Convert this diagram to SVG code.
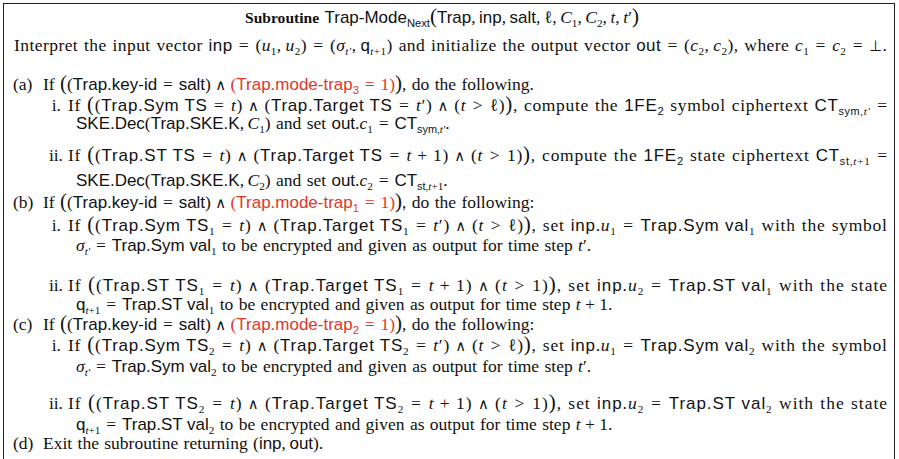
<svg xmlns="http://www.w3.org/2000/svg" width="899" height="459" viewBox="0 0 899 459">
<style>
text{font-family:"Liberation Serif","DejaVu Serif",serif;font-size:17.5px;fill:#111;word-spacing:1px}
.s{font-family:"Liberation Sans","DejaVu Sans",sans-serif;font-size:0.97em;word-spacing:0}
.i{font-style:italic}
.b{font-weight:bold;font-size:0.89em}
.sub{font-size:0.64em;baseline-shift:-4px}
.bg{font-size:1.2em}
.w{font-family:"DejaVu Sans",sans-serif;font-size:0.85em}
.red{fill:#e3352b}
.lb{text-anchor:end}
</style>
<rect x="3.5" y="3.5" width="891" height="480" fill="#fff" stroke="#222" stroke-width="1"/>
<g id="title">
<text x="442" y="23" text-anchor="middle"><tspan class="b">Subroutine</tspan> <tspan class="s">Trap-Mode</tspan><tspan class="s sub">Next</tspan><tspan class="bg">(</tspan><tspan class="s">Trap</tspan>,&#8201;<tspan class="s">inp</tspan>,&#8201;<tspan class="s">salt</tspan>,&#8201;ℓ,&#8201;<tspan class="i">C</tspan><tspan class="sub">1</tspan>,&#8201;<tspan class="i">C</tspan><tspan class="sub">2</tspan>,&#8201;<tspan class="i">t</tspan>,&#8201;<tspan class="i">t</tspan>′<tspan class="bg">)</tspan></text>
<text x="14" y="51" textLength="873" lengthAdjust="spacing">Interpret the input vector <tspan class="s">inp</tspan>&#8196;=&#8196;(<tspan class="i">u</tspan><tspan class="sub">1</tspan>,&#8201;<tspan class="i">u</tspan><tspan class="sub">2</tspan>)&#8196;=&#8196;(<tspan class="i">σ</tspan><tspan class="i sub">t′</tspan>,&#8201;<tspan class="s">q</tspan><tspan class="sub"><tspan class="i">t</tspan>+1</tspan>) and initialize the output vector <tspan class="s">out</tspan>&#8196;=&#8196;(<tspan class="i">c</tspan><tspan class="sub">2</tspan>,&#8201;<tspan class="i">c</tspan><tspan class="sub">2</tspan>), where <tspan class="i">c</tspan><tspan class="sub">1</tspan>&#8196;=&#8196;<tspan class="i">c</tspan><tspan class="sub">2</tspan>&#8196;=&#8196;<tspan class="w">⊥</tspan>.</text>
</g>
<g id="step-a">
<text x="13" y="90">(a)</text>
<text x="43" y="90">If <tspan class="bg">(</tspan>(<tspan class="s">Trap.key-id</tspan>&#8196;=&#8196;<tspan class="s">salt</tspan>)&#8197;<tspan class="w">∧</tspan>&#8197;<tspan class="red">(<tspan class="s">Trap.mode-trap</tspan><tspan class="s sub">3</tspan>&#8196;=&#8196;1)</tspan><tspan class="bg">)</tspan>, do the following.</text>
<text class="lb" x="61" y="111">i.</text>
<text x="68" y="111" textLength="819" lengthAdjust="spacing">If <tspan class="bg">(</tspan>(<tspan class="s">Trap.Sym TS</tspan>&#8196;=&#8196;<tspan class="i">t</tspan>)&#8197;<tspan class="w">∧</tspan>&#8197;(<tspan class="s">Trap.Target TS</tspan>&#8196;=&#8196;<tspan class="i">t</tspan>′)&#8197;<tspan class="w">∧</tspan>&#8197;(<tspan class="i">t</tspan>&#8196;&gt;&#8196;ℓ)<tspan class="bg">)</tspan>, compute the <tspan class="s">1FE</tspan><tspan class="s sub">2</tspan> symbol ciphertext <tspan class="s">CT</tspan><tspan class="sub"><tspan class="s">sym</tspan>,<tspan class="i">t′</tspan></tspan>&#8196;=</text>
<text x="76" y="129"><tspan class="s">SKE.Dec</tspan>(<tspan class="s">Trap.SKE.K</tspan>,&#8201;<tspan class="i">C</tspan><tspan class="sub">1</tspan>) and set <tspan class="s">out</tspan>.<tspan class="i">c</tspan><tspan class="sub">1</tspan>&#8196;=&#8196;<tspan class="s">CT</tspan><tspan class="sub"><tspan class="s">sym</tspan>,<tspan class="i">t′</tspan></tspan>.</text>
<text class="lb" x="63" y="161">ii.</text>
<text x="68" y="161" textLength="819" lengthAdjust="spacing">If <tspan class="bg">(</tspan>(<tspan class="s">Trap.ST TS</tspan>&#8196;=&#8196;<tspan class="i">t</tspan>)&#8197;<tspan class="w">∧</tspan>&#8197;(<tspan class="s">Trap.Target TS</tspan>&#8196;=&#8196;<tspan class="i">t</tspan>&#8197;+&#8197;1)&#8197;<tspan class="w">∧</tspan>&#8197;(<tspan class="i">t</tspan>&#8196;&gt;&#8196;1)<tspan class="bg">)</tspan>, compute the <tspan class="s">1FE</tspan><tspan class="s sub">2</tspan> state ciphertext <tspan class="s">CT</tspan><tspan class="sub"><tspan class="s">st</tspan>,<tspan class="i">t</tspan>+1</tspan>&#8196;=</text>
<text x="76" y="186"><tspan class="s">SKE.Dec</tspan>(<tspan class="s">Trap.SKE.K</tspan>,&#8201;<tspan class="i">C</tspan><tspan class="sub">2</tspan>) and set <tspan class="s">out</tspan>.<tspan class="i">c</tspan><tspan class="sub">2</tspan>&#8196;=&#8196;<tspan class="s">CT</tspan><tspan class="sub"><tspan class="s">st</tspan>,<tspan class="i">t</tspan>+1</tspan>.</text>
</g>
<g id="step-b">
<text x="13" y="208">(b)</text>
<text x="43" y="208">If <tspan class="bg">(</tspan>(<tspan class="s">Trap.key-id</tspan>&#8196;=&#8196;<tspan class="s">salt</tspan>)&#8197;<tspan class="w">∧</tspan>&#8197;<tspan class="red">(<tspan class="s">Trap.mode-trap</tspan><tspan class="s sub">1</tspan>&#8196;=&#8196;1)</tspan><tspan class="bg">)</tspan>, do the following:</text>
<text class="lb" x="61" y="231">i.</text>
<text x="68" y="231" textLength="819" lengthAdjust="spacing">If <tspan class="bg">(</tspan>(<tspan class="s">Trap.Sym TS</tspan><tspan class="sub">1</tspan>&#8196;=&#8196;<tspan class="i">t</tspan>)&#8197;<tspan class="w">∧</tspan>&#8197;(<tspan class="s">Trap.Target TS</tspan><tspan class="sub">1</tspan>&#8196;=&#8196;<tspan class="i">t</tspan>′)&#8197;<tspan class="w">∧</tspan>&#8197;(<tspan class="i">t</tspan>&#8196;&gt;&#8196;ℓ)<tspan class="bg">)</tspan>, set <tspan class="s">inp</tspan>.<tspan class="i">u</tspan><tspan class="sub">1</tspan>&#8196;=&#8196;<tspan class="s">Trap.Sym val</tspan><tspan class="sub">1</tspan> with the symbol</text>
<text x="76" y="251"><tspan class="i">σ</tspan><tspan class="i sub">t′</tspan>&#8196;=&#8196;<tspan class="s">Trap.Sym val</tspan><tspan class="sub">1</tspan> to be encrypted and given as output for time step <tspan class="i">t</tspan>′.</text>
<text class="lb" x="63" y="291">ii.</text>
<text x="68" y="291" textLength="819" lengthAdjust="spacing">If <tspan class="bg">(</tspan>(<tspan class="s">Trap.ST TS</tspan><tspan class="sub">1</tspan>&#8196;=&#8196;<tspan class="i">t</tspan>)&#8197;<tspan class="w">∧</tspan>&#8197;(<tspan class="s">Trap.Target TS</tspan><tspan class="sub">1</tspan>&#8196;=&#8196;<tspan class="i">t</tspan>&#8197;+&#8197;1)&#8197;<tspan class="w">∧</tspan>&#8197;(<tspan class="i">t</tspan>&#8196;&gt;&#8196;1)<tspan class="bg">)</tspan>, set <tspan class="s">inp</tspan>.<tspan class="i">u</tspan><tspan class="sub">2</tspan>&#8196;=&#8196;<tspan class="s">Trap.ST val</tspan><tspan class="sub">1</tspan> with the state</text>
<text x="76" y="310"><tspan class="s">q</tspan><tspan class="sub"><tspan class="i">t</tspan>+1</tspan>&#8196;=&#8196;<tspan class="s">Trap.ST val</tspan><tspan class="sub">1</tspan> to be encrypted and given as output for time step <tspan class="i">t</tspan>&#8197;+&#8197;1.</text>
</g>
<g id="step-c">
<text x="13" y="330">(c)</text>
<text x="43" y="330">If <tspan class="bg">(</tspan>(<tspan class="s">Trap.key-id</tspan>&#8196;=&#8196;<tspan class="s">salt</tspan>)&#8197;<tspan class="w">∧</tspan>&#8197;<tspan class="red">(<tspan class="s">Trap.mode-trap</tspan><tspan class="s sub">2</tspan>&#8196;=&#8196;1)</tspan><tspan class="bg">)</tspan>, do the following:</text>
<text class="lb" x="61" y="351">i.</text>
<text x="68" y="351" textLength="819" lengthAdjust="spacing">If <tspan class="bg">(</tspan>(<tspan class="s">Trap.Sym TS</tspan><tspan class="sub">2</tspan>&#8196;=&#8196;<tspan class="i">t</tspan>)&#8197;<tspan class="w">∧</tspan>&#8197;(<tspan class="s">Trap.Target TS</tspan><tspan class="sub">2</tspan>&#8196;=&#8196;<tspan class="i">t</tspan>′)&#8197;<tspan class="w">∧</tspan>&#8197;(<tspan class="i">t</tspan>&#8196;&gt;&#8196;ℓ)<tspan class="bg">)</tspan>, set <tspan class="s">inp</tspan>.<tspan class="i">u</tspan><tspan class="sub">1</tspan>&#8196;=&#8196;<tspan class="s">Trap.Sym val</tspan><tspan class="sub">2</tspan> with the symbol</text>
<text x="76" y="372"><tspan class="i">σ</tspan><tspan class="i sub">t′</tspan>&#8196;=&#8196;<tspan class="s">Trap.Sym val</tspan><tspan class="sub">2</tspan> to be encrypted and given as output for time step <tspan class="i">t</tspan>′.</text>
<text class="lb" x="63" y="409">ii.</text>
<text x="68" y="409" textLength="819" lengthAdjust="spacing">If <tspan class="bg">(</tspan>(<tspan class="s">Trap.ST TS</tspan><tspan class="sub">2</tspan>&#8196;=&#8196;<tspan class="i">t</tspan>)&#8197;<tspan class="w">∧</tspan>&#8197;(<tspan class="s">Trap.Target TS</tspan><tspan class="sub">2</tspan>&#8196;=&#8196;<tspan class="i">t</tspan>&#8197;+&#8197;1)&#8197;<tspan class="w">∧</tspan>&#8197;(<tspan class="i">t</tspan>&#8196;&gt;&#8196;1)<tspan class="bg">)</tspan>, set <tspan class="s">inp</tspan>.<tspan class="i">u</tspan><tspan class="sub">2</tspan>&#8196;=&#8196;<tspan class="s">Trap.ST val</tspan><tspan class="sub">2</tspan> with the state</text>
<text x="76" y="430"><tspan class="s">q</tspan><tspan class="sub"><tspan class="i">t</tspan>+1</tspan>&#8196;=&#8196;<tspan class="s">Trap.ST val</tspan><tspan class="sub">2</tspan> to be encrypted and given as output for time step <tspan class="i">t</tspan>&#8197;+&#8197;1.</text>
</g>
<g id="step-d">
<text x="13" y="449">(d)</text>
<text x="43" y="449">Exit the subroutine returning (<tspan class="s">inp</tspan>,&#8201;<tspan class="s">out</tspan>).</text>
</g>
</svg>
